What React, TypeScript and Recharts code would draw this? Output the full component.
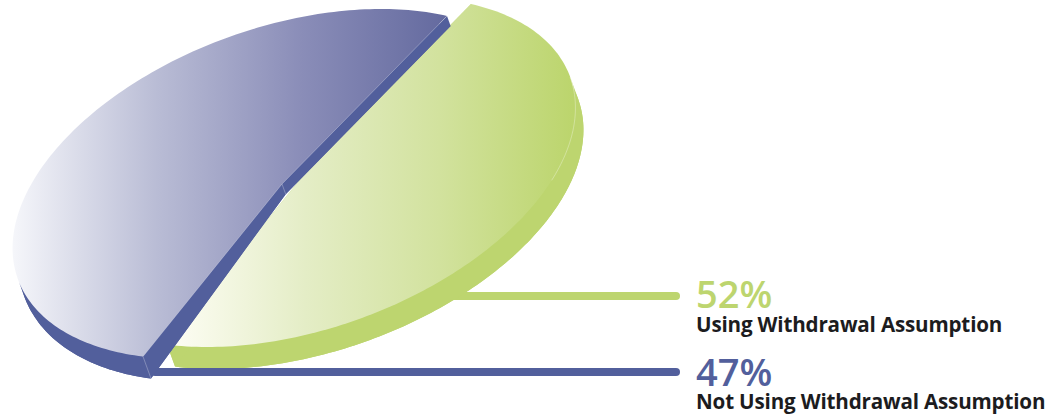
import React from "react"
import { PieChart, Pie } from "recharts"

const names = ["Using Withdrawal Assumption", "Not Using Withdrawal Assumption"]
const values = [52, 47]
const sideColors = ["#bdd56f", "#525f9c"]
const gradientStops = [
  ["#fdfdf4", "#e4edc6", "#d2e29e", "#bcd56d"],
  ["#f5f6fa", "#b9bcd5", "#8a8db8", "#646a9f"],
]

const data = names.map((name, i) => ({ name, value: values[i] }))

// tilted view of the disc: the two axis vectors of the ellipse
const AX = 165
const AY = -168
const BX = -213
const BY = -49
const DEPTH_X = 8
const DEPTH_Y = 22
const SKEW = 7.93
const SKEW_PHASE = 85.45
const RAD = Math.PI / 180

// per slice placement: pulled apart along the cut, gradient span, leader and text rows
const sliceLayout = [
  { dx: 24, dy: -12, taper: false, gradFrom: 172, gradTo: 572, leaderFrom: 440, leaderY: 296, pctY: 308, nameY: 332 },
  { dx: 0, dy: 0, taper: true, gradFrom: 13, gradTo: 446, leaderFrom: 155, leaderY: 372, pctY: 386, nameY: 409 },
]

// nearer edge looks larger than the far one
const warp = (angle: number) =>
  angle + SKEW * (Math.sin((angle - SKEW_PHASE) * RAD) + Math.sin(SKEW_PHASE * RAD))

const project = (angle: number, cx: number, cy: number, r: number) => {
  const t = warp(angle) * RAD
  const x = r * Math.cos(t)
  const y = r * Math.sin(t)
  return [cx + (x * AX + y * BX) / r, cy + (x * AY + y * BY) / r]
}

const arcPoints = (start: number, end: number, cx: number, cy: number, r: number) => {
  const pts: number[][] = []
  for (let i = 0; i <= 160; i++) {
    pts.push(project(start + ((end - start) * i) / 160, cx, cy, r))
  }
  return pts
}

const toPath = (pts: number[][], close = true) =>
  "M" + pts.map((p) => p[0].toFixed(2) + " " + p[1].toFixed(2)).join("L") + (close ? "Z" : "")

// the side wall gets thinner towards the back of the disc
const drop = (p: number[], taper: boolean) => {
  const s = taper ? Math.min(1, Math.max(0.45, 0.45 + (0.55 * (p[1] - 180)) / 176)) : 1
  return [p[0] + DEPTH_X * s, p[1] + DEPTH_Y * s]
}

// keep only the part of the rim that faces the viewer
const frontRim = (arc: number[][]) =>
  arc.filter((p, i) => {
    const q = arc[Math.min(i + 1, arc.length - 1)]
    const o = arc[Math.max(i - 1, 0)]
    return (q[0] - o[0]) * DEPTH_Y - (q[1] - o[1]) * DEPTH_X > 0
  })

const Slice = (props: any) => {
  const { cx, cy, outerRadius, startAngle, endAngle, index, value, name } = props
  const layout = sliceLayout[index]
  const ox = cx + layout.dx
  const oy = cy + layout.dy
  const arc = arcPoints(startAngle, endAngle, ox, oy, outerRadius)
  const hub = [ox, oy]
  const wedge = [hub, ...arc]
  const gradId = "sliceGrad" + index
  const color = sideColors[index]
  const sink = (p: number[]) => drop(p, layout.taper)
  const first = arc[0]
  const last = arc[arc.length - 1]
  const rim = frontRim(arc)
  return (
    <g>
      <defs>
        <linearGradient id={gradId} gradientUnits="userSpaceOnUse" x1={layout.gradFrom} y1={0} x2={layout.gradTo} y2={0}>
          {gradientStops[index].map((c, i) => (
            <stop key={i} offset={i / 3} stopColor={c} />
          ))}
        </linearGradient>
      </defs>
      <line x1={layout.leaderFrom} y1={layout.leaderY} x2={676} y2={layout.leaderY} stroke={color} strokeWidth={8} strokeLinecap="round" />
      <path d={toPath(wedge.map(sink))} fill={color} />
      <path d={toPath([...rim, ...rim.map(sink).reverse()])} fill={color} />
      <path d={toPath([hub, first, sink(first), sink(hub)])} fill={color} />
      <path d={toPath([hub, last, sink(last), sink(hub)])} fill={color} />
      <path d={toPath(wedge)} fill={`url(#${gradId})`} />
      {/* thin light seams on the folds of the solid */}
      {index === 1 && (
        <g fill="none" stroke="#ffffff" strokeOpacity={0.4} strokeWidth={0.7}>
          <path d={toPath([first, hub, last], false)} />
          <path d={toPath([hub, sink(hub)], false)} />
          <path d={toPath([last, sink(last)], false)} />
        </g>
      )}
      {index === 0 && (
        <path d={toPath(rim.slice(Math.floor(rim.length * 0.72)), false)} fill="none" stroke="#ffffff" strokeOpacity={0.45} strokeWidth={0.7} />
      )}
      <text x={696} y={layout.pctY} fill={color} fontFamily="Open Sans" fontWeight={600} fontSize={38}>
        {value}%
      </text>
      <text x={696} y={layout.nameY} fill="#1c1c1e" fontFamily="Open Sans" fontWeight={700} fontSize={20.6} letterSpacing={-0.17}>
        {name}
      </text>
    </g>
  )
}

export default function App() {
  return (
    <div style={{ position: "absolute", left: 0, top: 0, width: 1058, height: 419 }}>
      <PieChart width={1058} height={419} margin={{ top: 0, right: 0, bottom: 0, left: 0 }}>
        <Pie
          data={data}
          dataKey="value"
          nameKey="name"
          cx={282}
          cy={184}
          outerRadius={100}
          startAngle={170.9}
          endAngle={530.9}
          stroke="none"
          isAnimationActive={false}
          shape={Slice}
          inactiveShape={Slice}
        />
      </PieChart>
    </div>
  )
}
